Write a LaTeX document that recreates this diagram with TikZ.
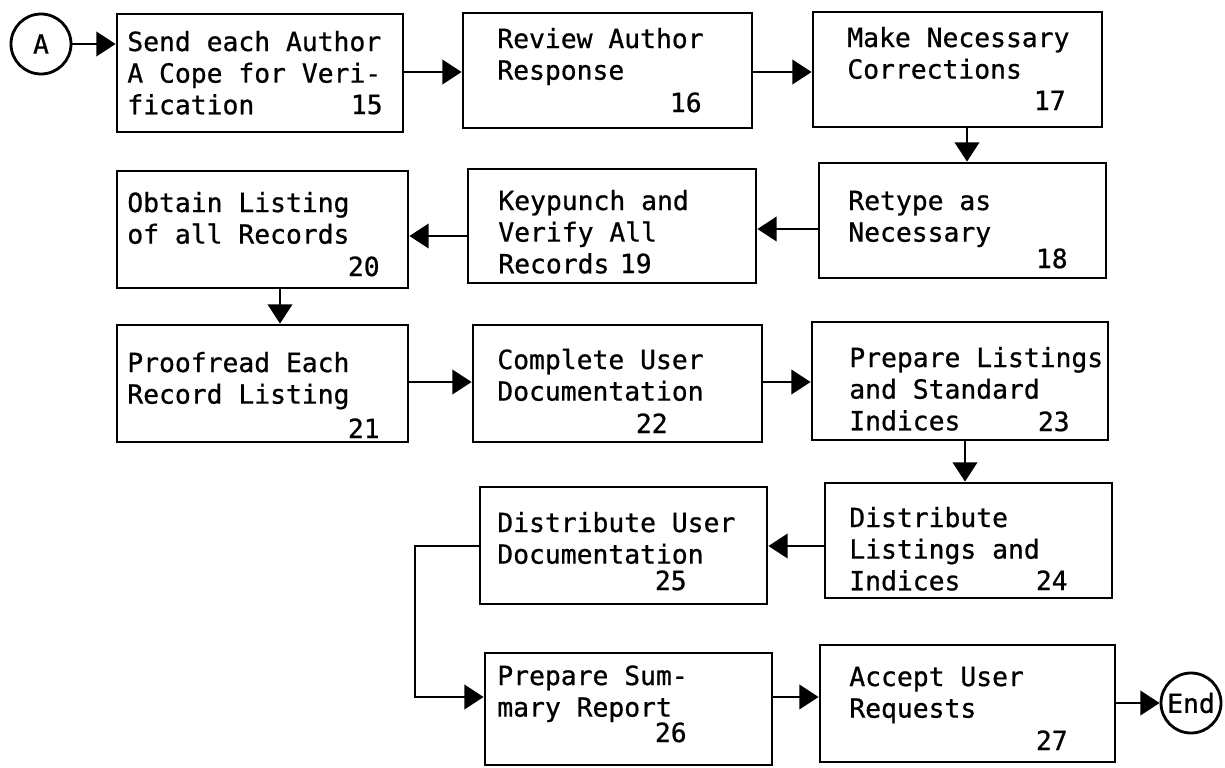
\documentclass[tikz,border=0pt]{standalone}
\usepackage{fontspec}
\setmonofont[FakeBold=0.8]{DejaVu Sans Mono}
\usetikzlibrary{arrows.meta,fit}

% typewriter-style text used throughout the chart
\newcommand{\flowfont}{\ttfamily\fontsize{15}{18}\selectfont}
% stacked lines of a step description, baseline on the first line
\newcommand{\flines}[1]{\begin{tabular}[t]{@{}l@{}}#1\end{tabular}}

\setlength{\unitlength}{0.02cm}
\tikzset{
  stepbox/.style={draw, line width=1.6pt, inner sep=0pt, rectangle},
  txt/.style={anchor=base west, inner sep=0pt, font=\flowfont},
  num/.style={anchor=base east, inner sep=0pt, font=\flowfont},
  term/.style={draw, circle, line width=1.6pt, minimum size=60\unitlength, inner sep=0pt, font=\flowfont},
  arr/.style={line width=1.3pt, -{Triangle[length=11pt,width=14pt]}},
}

\begin{document}
\begin{tikzpicture}[x=0.02cm, y=-0.02cm]
\useasboundingbox (0,0) rectangle (1225,768);

% terminals
\node[term] (A) at (41,44) {A};
\node[term] (E) at (1191,703) {End};

% process boxes
\node[stepbox, fit={(117,14) (403,132)}]  (b15) {};
\node[stepbox, fit={(463,13) (752,128)}]  (b16) {};
\node[stepbox, fit={(813,12) (1102,127)}] (b17) {};
\node[stepbox, fit={(819,163) (1106,278)}] (b18) {};
\node[stepbox, fit={(468,169) (756,283)}] (b19) {};
\node[stepbox, fit={(117,171) (408,288)}] (b20) {};
\node[stepbox, fit={(117,325) (408,442)}] (b21) {};
\node[stepbox, fit={(473,325) (762,442)}] (b22) {};
\node[stepbox, fit={(812,322) (1108,440)}] (b23) {};
\node[stepbox, fit={(825,483) (1112,598)}] (b24) {};
\node[stepbox, fit={(480,487) (767,604)}] (b25) {};
\node[stepbox, fit={(485,653) (772,765)}] (b26) {};
\node[stepbox, fit={(820,645) (1115,762)}] (b27) {};

% descriptions
\node[txt] (t15) at (127,51)  {\flines{Send each Author\\A Cope for Veri-\\fication}};
\node[txt] (t16) at (497,48)  {\flines{Review Author\\Response}};
\node[txt] (t17) at (847,47)  {\flines{Make Necessary\\Corrections}};
\node[txt] (t18) at (848,210) {\flines{Retype as\\Necessary}};
\node[txt] (t19) at (498,210) {\flines{Keypunch and\\Verify All\\Records}};
\node[txt] (t20) at (127,212) {\flines{Obtain Listing\\of all Records}};
\node[txt] (t21) at (127,372) {\flines{Proofread Each\\Record Listing}};
\node[txt] (t22) at (497,369) {\flines{Complete User\\Documentation}};
\node[txt] (t23) at (849,367) {\flines{Prepare Listings\\and Standard\\Indices}};
\node[txt] (t24) at (849,527) {\flines{Distribute\\Listings and\\Indices}};
\node[txt] (t25) at (497,532) {\flines{Distribute User\\Documentation}};
\node[txt] (t26) at (497,685) {\flines{Prepare Sum-\\mary Report}};
\node[txt] (t27) at (849,686) {\flines{Accept User\\Requests}};

% step numbers
\node[num] (n15) at (383,114)  {15};
\node[num] (n16) at (702,112)  {16};
\node[num] (n17) at (1066,110) {17};
\node[num] (n18) at (1068,268) {18};
\node[num] (n19) at (652,273)  {19};
\node[num] (n20) at (380,276)  {20};
\node[num] (n21) at (380,438)  {21};
\node[num] (n22) at (668,433)  {22};
\node[num] (n23) at (1070,431) {23};
\node[num] (n24) at (1068,590) {24};
\node[num] (n25) at (687,590)  {25};
\node[num] (n26) at (687,742)  {26};
\node[num] (n27) at (1068,750) {27};

% connector lanes
\coordinate (v1) at (967,0);
\coordinate (v2) at (280,0);
\coordinate (v3) at (965,0);
\coordinate (bend) at (415,0);
\coordinate (h0) at (0,72);
\coordinate (h1) at (0,229);
\coordinate (h2) at (0,236);
\coordinate (h3) at (0,382);
\coordinate (h4) at (0,546);
\coordinate (h5) at (0,697);

% flow
\draw[arr] (A.east) -- (A.east -| b15.west);
\draw[arr] (b15.east |- h0) -- (b16.west |- h0);
\draw[arr] (b16.east |- h0) -- (b17.west |- h0);
\draw[arr] (b17.south -| v1) -- (b18.north -| v1);
\draw[arr] (b18.west |- h1) -- (b19.east |- h1);
\draw[arr] (b19.west |- h2) -- (b20.east |- h2);
\draw[arr] (b20.south -| v2) -- (b21.north -| v2);
\draw[arr] (b21.east |- h3) -- (b22.west |- h3);
\draw[arr] (b22.east |- h3) -- (b23.west |- h3);
\draw[arr] (b23.south -| v3) -- (b24.north -| v3);
\draw[arr] (b24.west |- h4) -- (b25.east |- h4);
\draw[arr] (b25.west |- h4) -- (bend |- h4) -- (bend |- h5) -- (b26.west |- h5);
\draw[arr] (b26.east |- h5) -- (b27.west |- h5);
\draw[arr] (b27.east |- E.west) -- (E.west);
\end{tikzpicture}
\end{document}
